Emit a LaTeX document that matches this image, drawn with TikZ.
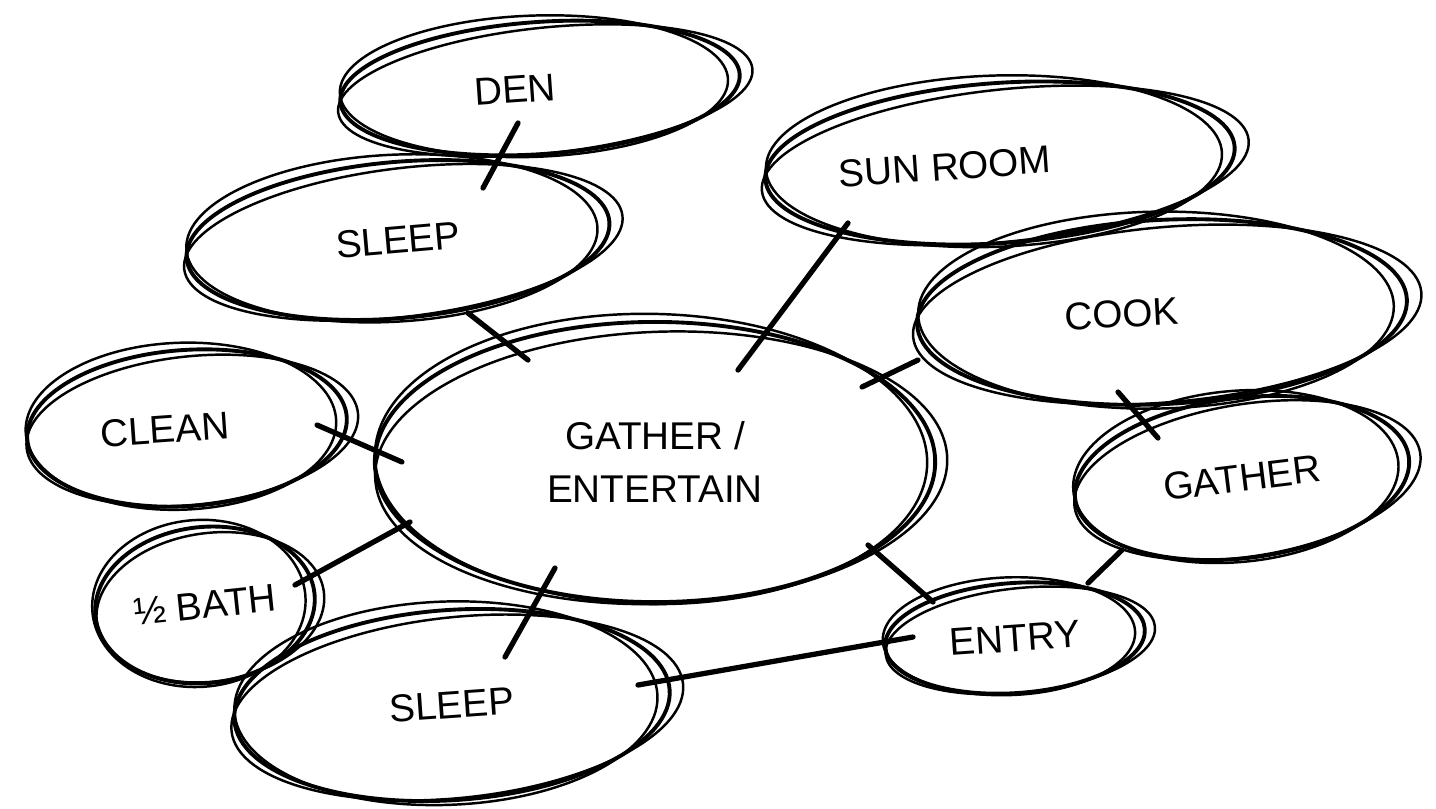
\documentclass[tikz,border=0pt]{standalone}
\usepackage{fontspec}
\setmainfont{Liberation Sans}
\usetikzlibrary{shapes.geometric,calc}
\tikzset{
  bubble/.style={ellipse, draw, line width=1.1pt, inner sep=0pt, font=\fontsize{11}{15}\selectfont},
  sketch/.style={line width=0.7pt},
  conn/.style={line width=1.5pt, line cap=round},
}
% #1 name, #2 x, #3 y, #4 rx, #5 ry, #6 rotation, #7 text
\newcommand\bub[7]{%
  \node[bubble, minimum width=#4*0.02cm, minimum height=#5*0.02cm, rotate=#6] (#1) at (#2,#3) {#7};
  \draw[sketch, rotate around={#6+2:(#1.center)}] ($(#1.center)+(5,3)$) ellipse [x radius=#4*0.0104cm, y radius=#5*0.0095cm];
  \draw[sketch, rotate around={#6-2:(#1.center)}] ($(#1.center)+(-6,-2)$) ellipse [x radius=#4*0.0097cm, y radius=#5*0.0107cm];
}
\newcommand\offtext[2]{\makebox[0pt]{\hspace*{#1}#2}}
\begin{document}
\begin{tikzpicture}[x=0.01cm, y=-0.01cm]
\useasboundingbox (0,0) rectangle (1436,808);

\bub{den}{540}{88}{200}{66}{4}{\offtext{-0.5cm}{DEN}}
\bub{sleepA}{398}{240}{212}{78}{5}{SLEEP}
\bub{sun}{1000}{163}{235}{80}{4}{\offtext{-1.1cm}{SUN ROOM}}
\bub{cook}{1162}{312}{245}{92}{3}{\offtext{-0.8cm}{COOK}}
\bub{gatherB}{1242}{478}{168}{80}{7}{GATHER}
\bub{entry}{1015}{638}{130}{55}{4}{ENTRY}
\bub{sleepB}{452}{705}{218}{95}{4}{SLEEP}
\bub{bath}{205}{605}{110}{78}{6}{½ BATH}
\bub{clean}{187}{428}{160}{78}{4}{\offtext{-0.44cm}{CLEAN}}
\node[bubble, minimum width=5.6cm, minimum height=2.8cm, align=center] (main) at (655,462) {GATHER /\\ENTERTAIN};
\draw[sketch, rotate around={2:(main.center)}] ($(main.center)+(6,6)$) ellipse [x radius=2.86cm, y radius=1.36cm];
\draw[sketch, rotate around={-1:(main.center)}] ($(main.center)+(-4,-3)$) ellipse [x radius=2.76cm, y radius=1.45cm];

\draw[conn] ([shift={(-22,35)}]den.center) -- ([shift={(85,-52)}]sleepA.center);
\draw[conn] ([shift={(70,73)}]sleepA.center) -- ([shift={(-127,-102)}]main.center);
\draw[conn] ([shift={(-152,60)}]sun.center) -- ([shift={(83,-92)}]main.center);
\draw[conn] ([shift={(-244,48)}]cook.center) -- ([shift={(207,-75)}]main.center);
\draw[conn] ([shift={(-44,80)}]cook.center) -- ([shift={(-84,-40)}]gatherB.center);
\draw[conn] ([shift={(-120,72)}]gatherB.center) -- ([shift={(73,-55)}]entry.center);
\draw[conn] ([shift={(213,83)}]main.center) -- ([shift={(-82,-36)}]entry.center);
\draw[conn] ([shift={(-100,106)}]main.center) -- ([shift={(53,-48)}]sleepB.center);
\draw[conn] ([shift={(186,-20)}]sleepB.center) -- ([shift={(-102,-1)}]entry.center);
\draw[conn] ([shift={(130,-3)}]clean.center) -- ([shift={(-253,0)}]main.center);
\draw[conn] ([shift={(-245,60)}]main.center) -- ([shift={(90,-20)}]bath.center);
\end{tikzpicture}
\end{document}
